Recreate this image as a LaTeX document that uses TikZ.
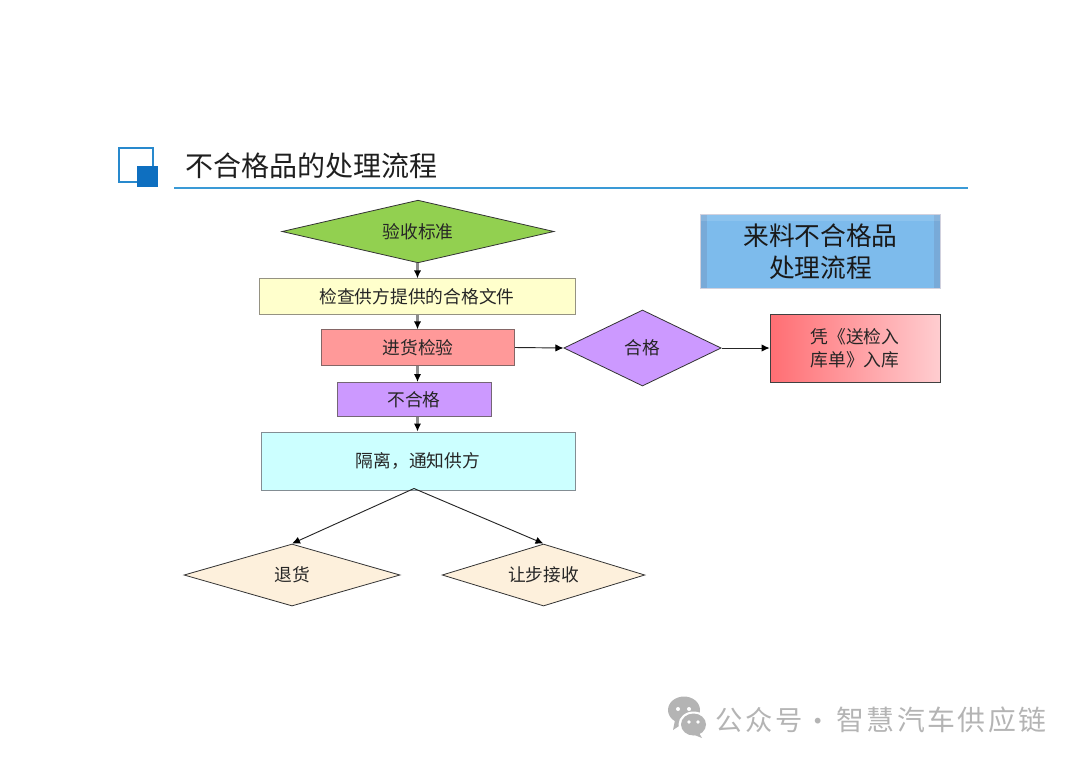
\documentclass[tikz,border=0pt]{standalone}
\usepackage{fontspec}
\setmainfont{Noto Sans CJK SC}
\newfontfamily\markfont[LetterSpace=9]{Noto Sans CJK SC}
\usetikzlibrary{arrows.meta,shapes.geometric}
\definecolor{titleblue}{HTML}{3A9AD6}
\definecolor{iconblue}{HTML}{0E6FC0}
\definecolor{markgrey}{HTML}{B4B4B4}
\tikzset{every picture/.style={line width=0.75pt},
  boxnode/.style={draw=#1!20!black!60,line width=0.6pt,rectangle,inner sep=0pt,text=black!85,font=\fontsize{13.3}{16}\selectfont},
  decision/.style={draw=black!80,line width=0.6pt,diamond,inner sep=0pt,text=black!85,font=\fontsize{13.3}{16}\selectfont},
  flowline/.style={draw=black!45,line width=1.6pt,-{Latex[black,length=6pt,width=5.5pt]}},
  thinline/.style={draw=black!85,line width=0.7pt,-{Latex[black,length=6pt,width=5.5pt]}},
  markword/.style={text=markgrey,font=\markfont\fontsize{#1}{24}\selectfont}}

\begin{document}
\begin{tikzpicture}[x=0.75pt,y=0.75pt,yscale=-1,xscale=1]
    \useasboundingbox (0,0) rectangle (1080,764);
    %Title icon
    \draw [titleblue!60!iconblue,line width=1.5pt] (118.5,147.5) rectangle (152.5,182);
    \fill [iconblue] (137,166) rectangle (158,187);
    %Title
    \node (title) at (311.5,165.5) [text=black!88,font=\fontsize{21}{25}\selectfont] {不合格品的处理流程};
    \coordinate (ruleleft) at (174,187.5);
    \coordinate (ruleright) at (968,187.5);
    \draw [titleblue,line width=1.5pt] (ruleleft) -- (ruleright);
    %Main column
    \node (standard) at (418,231.5) [decision,shape aspect=4.32,fill={rgb,255:red,146;green,208;blue,80},minimum width=204pt,minimum height=47pt] {验收标准};
    \node (docs) at (417,296.5) [boxnode=yellow,fill={rgb,255:red,255;green,255;blue,204},minimum width=237pt,minimum height=26.5pt] {检查供方提供的合格文件};
    \node (inspect) at (418,347.5) [boxnode=red,fill={rgb,255:red,255;green,153;blue,153},minimum width=145pt,minimum height=26.5pt] {进货检验};
    \node (fail) at (414,399.5) [boxnode=violet,fill={rgb,255:red,204;green,153;blue,255},minimum width=115.5pt,minimum height=25.5pt] {不合格};
    \node (isolate) at (418,461) [boxnode=cyan,fill={rgb,255:red,204;green,255;blue,255},minimum width=235.5pt,minimum height=43.5pt] {隔离，通知供方};
    %Bottom decisions
    \node (back) at (292,575) [decision,shape aspect=3.48,fill={rgb,255:red,253;green,240;blue,220},minimum width=162pt,minimum height=46.5pt] {退货};
    \node (accept) at (543.5,575) [decision,shape aspect=3.27,fill={rgb,255:red,253;green,240;blue,220},minimum width=152pt,minimum height=46.5pt] {让步接收};
    %Right branch
    \node (pass) at (642.5,348) [decision,shape aspect=2.07,fill={rgb,255:red,204;green,153;blue,255},minimum width=118pt,minimum height=57pt] {合格};
    \node (store) at (855,348) [draw=black!75,line width=0.6pt,left color={rgb,255:red,255;green,110;blue,115},right color={rgb,255:red,255;green,205;blue,208},minimum width=127.5pt,minimum height=51pt,inner sep=0pt,align=center,text=black!85,font=\fontsize{13.3}{17.5}\selectfont] {凭《送检入\\库单》入库};
    %Heading box
    \node (heading) at (820.5,251.5) [fill={rgb,255:red,125;green,187;blue,236},minimum width=179pt,minimum height=54.5pt,inner sep=0pt,align=center,text=black!90,font=\fontsize{19.3}{24}\selectfont] {来料不合格品\\处理流程};
    \fill [black!25!blue!20!gray,opacity=0.2] (heading.north west) rectangle ([xshift=5]heading.south west);
    \fill [black!25!blue!20!gray,opacity=0.2] (heading.north east) rectangle ([xshift=-5]heading.south east);
    \fill [white,opacity=0.12] (heading.north west) rectangle ([yshift=5]heading.north east);
    \draw [black!15!blue!20!gray,opacity=0.3,line width=0.8pt] (heading.north west) rectangle (heading.south east);
    %Arrows
    \coordinate (axis) at (417.5,0);
    \draw [flowline] (standard.south -| axis) -- (docs.north -| axis);
    \draw [flowline] (docs.south -| axis) -- (inspect.north -| axis);
    \draw [flowline] (inspect.south -| axis) -- (fail.north -| axis);
    \draw [flowline] (fail.south -| axis) -- (isolate.north -| axis);
    \draw [thinline] (inspect.east) -- (pass.west);
    \draw [thinline] (pass.east) -- (store.west);
    \coordinate (split) at (414,488.5);
    \draw [thinline] (split) -- (back.north);
    \draw [thinline] (split) -- (accept.north);
    %Watermark
    \fill [markgrey] (684,710) ellipse (16 and 13.5);
    \fill [markgrey] (675,720) -- (673,730) -- (685,722) -- cycle;
    \fill [white] (693.5,724.5) ellipse (15 and 13);
    \fill [markgrey] (693.5,724.5) ellipse (12.5 and 11);
    \fill [markgrey] (699,733) -- (702,738) -- (692,734) -- cycle;
    \fill [white] (678,709) circle (2) (689,709) circle (2) (689,722) circle (1.8) (698,722) circle (1.8);
    \node (markleft) at (759,720) [markword=20.5] {公众号};
    \node (markdot) at (818,725) [markword=20.5] {·};
    \node (markright) at (941.5,720) [markword=20.9] {智慧汽车供应链};
\end{tikzpicture}
\end{document}
